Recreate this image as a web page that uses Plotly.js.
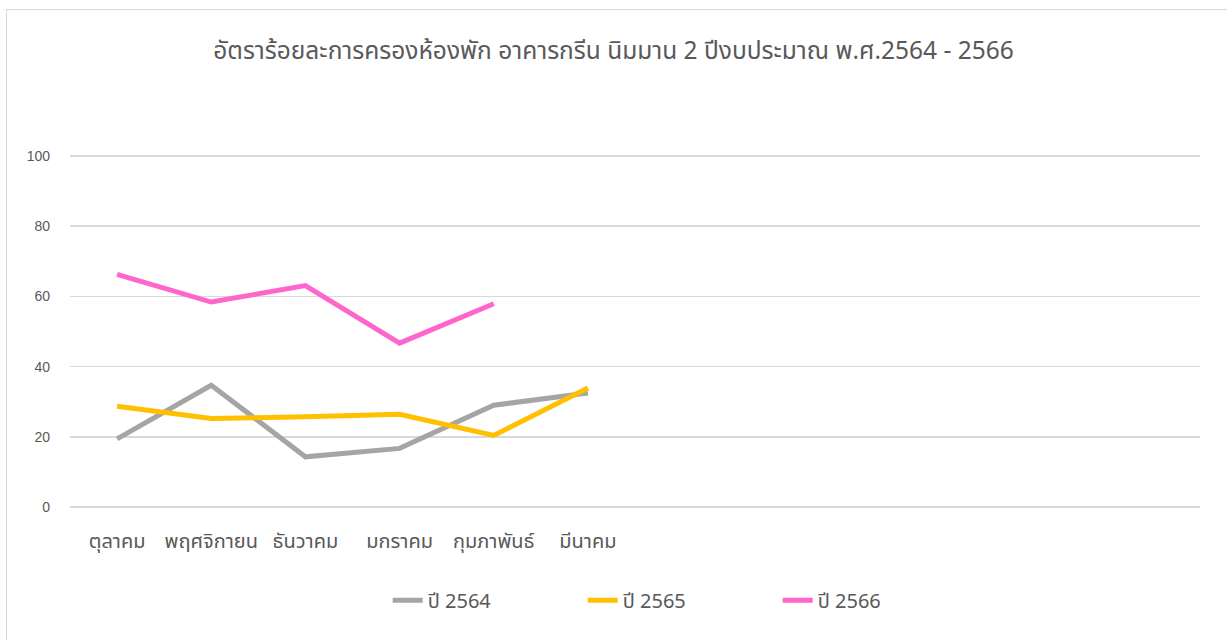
<!DOCTYPE html>
<html>
<head>
<meta charset="utf-8">
<script src="https://cdn.plot.ly/plotly-3.0.1.min.js"></script>
<style>
  html, body { margin: 0; padding: 0; background: #ffffff; }
  #chart { position: absolute; left: 0; top: 0; width: 1227px; height: 640px; }
  #frame { position: absolute; left: 6px; top: 9px; width: 1240px; height: 660px; border: 1px solid #d9d9d9; pointer-events: none; }
</style>
</head>
<body>
<div id="chart"></div>
<div id="frame"></div>
<script>
// Categories (fiscal-year months, Oct–Mar shown; rest of year empty)
const months = ["ตุลาคม", "พฤศจิกายน", "ธันวาคม", "มกราคม", "กุมภาพันธ์", "มีนาคม"];

// Series values (occupancy rate %)
const y2564 = [19.4, 34.7, 14.3, 16.7, 29.0, 32.5];
const y2565 = [28.7, 25.2, 25.7, 26.4, 20.4, 33.9];
const y2566 = [66.3, 58.4, 63.1, 46.7, 57.9];

const seriesNames = ["ปี 2564", "ปี 2565", "ปี 2566"];
const colors = ["#A5A5A5", "#FFC000", "#FF66CC"];
const yTicks = [0, 20, 40, 60, 80, 100];

const thaiFont = "Noto Sans, Noto Sans Thai, Loma, sans-serif";

const traces = [y2564, y2565, y2566].map((vals, i) => ({
  type: "scatter",
  mode: "lines",
  name: seriesNames[i],
  x: months.slice(0, vals.length),
  y: vals,
  line: { color: colors[i], width: 5, shape: "linear" },
  hoverinfo: "x+y+name"
}));

const layout = {
  width: 1227,
  height: 640,
  paper_bgcolor: "#ffffff",
  plot_bgcolor: "#ffffff",
  margin: { l: 70, r: 27, t: 155, b: 133 },
  title: {
    text: "อัตราร้อยละการครองห้องพัก อาคารกรีน นิมมาน 2 ปีงบประมาณ พ.ศ.2564 - 2566",
    font: { family: thaiFont, size: 24.5, color: "#595959" },
    x: 0.5, xanchor: "center",
    y: 1 - 50 / 640, yanchor: "middle", yref: "container"
  },
  xaxis: {
    type: "category",
    categoryorder: "array",
    categoryarray: months,
    range: [-0.5, 11.5],
    showgrid: false,
    zeroline: false,
    showline: false,
    ticks: "",
    ticklabelstandoff: 20,
    tickfont: { family: thaiFont, size: 20, color: "#595959" },
    fixedrange: true
  },
  yaxis: {
    range: [0, 100.3],
    tickvals: yTicks,
    showgrid: true,
    gridcolor: "#d9d9d9",
    gridwidth: 1.5,
    zeroline: true,
    zerolinecolor: "#d9d9d9",
    zerolinewidth: 1.5,
    showline: false,
    ticks: "",
    ticklabelstandoff: 19,
    tickfont: { family: "Liberation Sans, Arial, sans-serif", size: 14, color: "#595959" },
    fixedrange: true
  },
  showlegend: true,
  legend: {
    orientation: "h",
    x: 0.54, xanchor: "center",
    y: -93 / 351, yanchor: "middle",
    font: { family: thaiFont, size: 20, color: "#595959" },
    entrywidth: 150,
    entrywidthmode: "pixels",
    bgcolor: "rgba(0,0,0,0)"
  }
};

Plotly.newPlot("chart", traces, layout, { displayModeBar: false, staticPlot: true });
</script>
</body>
</html>
